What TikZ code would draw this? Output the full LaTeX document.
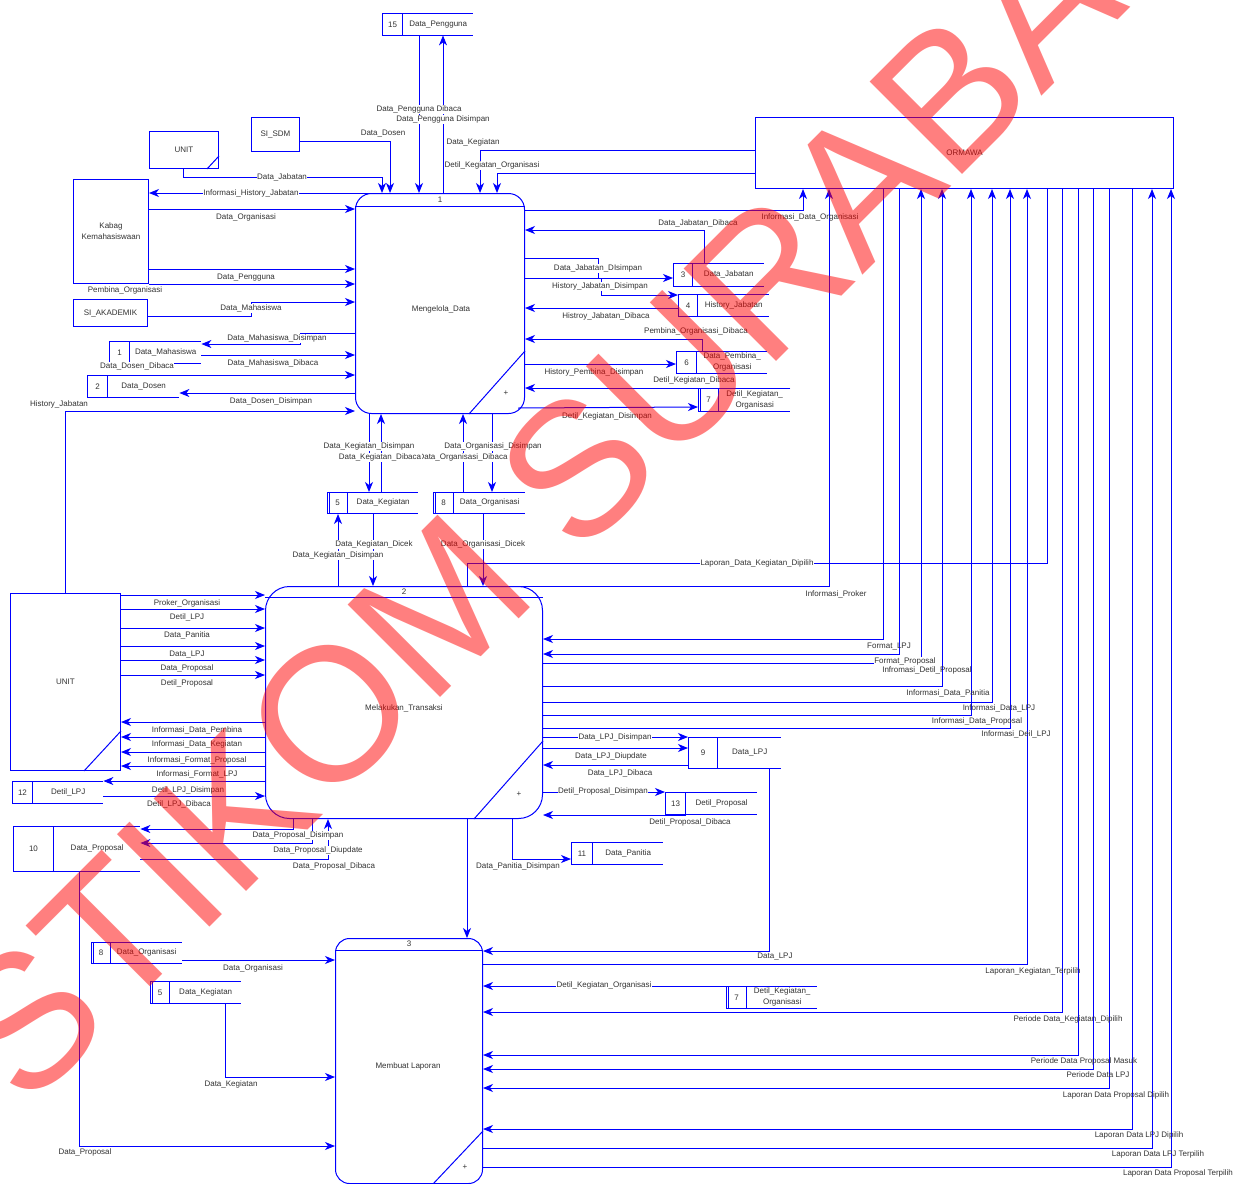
\documentclass[tikz,border=0pt]{standalone}
\usepackage{fontspec}
\setmainfont{Liberation Sans}
\usetikzlibrary{arrows.meta}
\definecolor{flowblue}{RGB}{0,0,255}
\begin{document}
\begin{tikzpicture}[x=1pt, y=-1pt, every node/.style={font=\fontsize{8}{11}\selectfont, text=black!80},
    wire/.style={draw=flowblue, line width=1pt},
    flow/.style={wire, -{Stealth[length=10pt, width=8pt, inset=3pt]}},
    lbl/.style={fill=white, inner sep=0.5pt, text height=6pt, text depth=2pt},
    tag/.style={inner sep=0.5pt, text height=6pt, text depth=2pt},
    ent/.style={wire, anchor=north west, inner sep=0, align=center},
    proc/.style={wire, anchor=north west, inner sep=0, rounded corners=16pt},
    sid/.style={wire, anchor=north west, inner sep=0, minimum width=20pt, minimum height=22pt},
    sname/.style={anchor=north west, inner sep=0, minimum height=22pt, align=center,
        append after command={(\tikzlastnode.north west) edge[wire] (\tikzlastnode.north east)
            (\tikzlastnode.south west) edge[wire] (\tikzlastnode.south east)}},
    dup/.style={append after command={([xshift=2.5pt]\tikzlastnode.north west) edge[wire] ([xshift=2.5pt]\tikzlastnode.south west)}}]
\path[use as bounding box, fill=white] (0,0) rectangle (1243,1184);

% entities
\node[ent, minimum width=418pt, minimum height=71pt] (ormawa) at (755,117) {ORMAWA};
\node[ent, minimum width=75pt, minimum height=104pt] (kabag) at (73,179) {Kabag\\Kemahasiswaan};
\node[ent, minimum width=48pt, minimum height=34pt] (sisdm) at (251,117) {SI\_SDM};
\node[ent, minimum width=69pt, minimum height=37pt] (unitA) at (149,131) {UNIT};
\draw[wire] ([xshift=-12pt]unitA.south east) -- ([yshift=13pt]unitA.south east);
\node[ent, minimum width=74pt, minimum height=27pt] (siak) at (73,299) {SI\_AKADEMIK};
\node[ent, minimum width=110pt, minimum height=177pt] (unitB) at (10,593) {UNIT};
\draw[wire] ([xshift=-37pt]unitB.south east) -- ([yshift=40pt]unitB.south east);

% processes
\node[proc, minimum width=169pt, minimum height=220pt] (p1) at (355,193) {};
\draw[wire] ([yshift=-13pt]p1.north west) -- ([yshift=-13pt]p1.north east);
\draw[wire] ([yshift=63pt]p1.south east) -- ([xshift=-56pt]p1.south east);
\node (p1num) at ([yshift=-6.5pt]p1.north) {1};
\node (p1txt) at (441,309) {Mengelola\_Data};
\node (p1plus) at ([shift={(-19pt,21pt)}]p1.south east) {+};

\node[proc, minimum width=277pt, minimum height=232pt, rounded corners=24pt] (p2) at (265,586) {};
\draw[wire] ([yshift=-11pt]p2.north west) -- ([yshift=-11pt]p2.north east);
\draw[wire] ([yshift=78pt]p2.south east) -- ([xshift=-69pt]p2.south east);
\node (p2num) at ([yshift=-5.5pt]p2.north) {2};
\node (p2txt) at (404,708) {Melakukan\_Transaksi};
\node (p2plus) at ([shift={(-24pt,25pt)}]p2.south east) {+};

\node[proc, minimum width=147pt, minimum height=245pt, rounded corners=14pt] (p3) at (335,938) {};
\draw[wire] ([yshift=-12pt]p3.north west) -- ([yshift=-12pt]p3.north east);
\draw[wire] ([yshift=53pt]p3.south east) -- ([xshift=-50pt]p3.south east);
\node (p3num) at ([yshift=-6pt]p3.north) {3};
\node (p3txt) at (408,1066) {Membuat Laporan};
\node (p3plus) at ([shift={(-18pt,17pt)}]p3.south east) {+};

% data stores
\node[sid] (s15) at (382,13) {15};
\node[sname, minimum width=70pt] (s15n) at (s15.north east) {Data\_Pengguna};
\node[sid] (s1) at (109,341) {1};
\node[sname, minimum width=71pt] (s1n) at (s1.north east) {Data\_Mahasiswa};
\node[sid] (s2) at (87,375) {2};
\node[sname, minimum width=71pt] (s2n) at (s2.north east) {Data\_Dosen};
\node[sid, minimum width=19pt, minimum height=23pt] (s3) at (673,263) {3};
\node[sname, minimum width=71pt, minimum height=23pt] (s3n) at (s3.north east) {Data\_Jabatan};
\node[sid, minimum width=19pt] (s4) at (678,294) {4};
\node[sname, minimum width=71pt] (s4n) at (s4.north east) {History\_Jabatan};
\node[sid] (s6) at (676,351) {6};
\node[sname, minimum width=70pt] (s6n) at (s6.north east) {Data\_Pembina\_\\Organisasi};
\node[sid, dup, minimum height=23pt] (s7a) at (698,388) {7};
\node[sname, minimum width=71pt, minimum height=23pt] (s7an) at (s7a.north east) {Detil\_Kegiatan\_\\Organisasi};
\node[sid, dup, minimum height=21pt] (s5a) at (327,492) {5};
\node[sname, minimum width=70pt, minimum height=21pt] (s5an) at (s5a.north east) {Data\_Kegiatan};
\node[sid, dup, minimum height=21pt] (s8a) at (433,492) {8};
\node[sname, minimum width=71pt, minimum height=21pt] (s8an) at (s8a.north east) {Data\_Organisasi};
\node[sid, minimum width=29pt, minimum height=31pt] (s9) at (688,737) {9};
\node[sname, minimum width=63pt, minimum height=31pt] (s9n) at (s9.north east) {Data\_LPJ};
\node[sid] (s12) at (12,781) {12};
\node[sname, minimum width=70pt] (s12n) at (s12.north east) {Detil\_LPJ};
\node[sid, minimum width=40pt, minimum height=45pt] (s10) at (13,826) {10};
\node[sname, minimum width=86pt, minimum height=45pt] (s10n) at (s10.north east) {Data\_Proposal};
\node[sid] (s13) at (665,792) {13};
\node[sname, minimum width=71pt] (s13n) at (s13.north east) {Detil\_Proposal};
\node[sid, minimum width=21pt] (s11) at (571,842) {11};
\node[sname, minimum width=70pt] (s11n) at (s11.north east) {Data\_Panitia};
\node[sid, dup, minimum width=19pt, minimum height=21pt] (s8b) at (91,942) {8};
\node[sname, minimum width=71pt, minimum height=21pt] (s8bn) at (s8b.north east) {Data\_Organisasi};
\node[sid, dup, minimum width=19pt] (s5b) at (150,981) {5};
\node[sname, minimum width=71pt] (s5bn) at (s5b.north east) {Data\_Kegiatan};
\node[sid, dup] (s7b) at (726,986) {7};
\node[sname, minimum width=70pt] (s7bn) at (s7b.north east) {Detil\_Kegiatan\_\\Organisasi};

% flows around process 1
\draw[flow] (s15n.south -| 419,0) -- (p1.north -| 419,0);
\draw[flow] (p1.north -| 443,0) -- (s15n.south -| 443,0);
\draw[flow] (sisdm.east |- 0,141) -| (p1.north -| 390,0);
\draw[flow] (unitA.south -| 183,0) |- (382,177) -- (p1.north -| 382,0);
\draw[flow] (ormawa.west |- 0,150) -| (p1.north -| 480,0);
\draw[flow] (ormawa.west |- 0,173) -| (p1.north -| 497,0);
\draw[flow] (p1.north -| 373,0) -- (kabag.east |- p1.north);
\draw[flow] (kabag.east |- 0,209) -- (p1.west |- 0,209);
\draw[flow] (kabag.east |- 0,269) -- (p1.west |- 0,269);
\draw[flow] (kabag.south east) -- (p1.west |- kabag.south east);
\draw[flow] (siak.east |- 0,316) -| (251,302) -- (p1.west |- 0,302);
\draw[flow] (p1.west |- 0,333) -- (300,333) |- (s1n.east |- 0,344);
\draw[flow] (s1n.east |- 0,355) -- (p1.west |- 0,355);
\draw[flow] (s2n.north -| 143,0) -- (p1.west |- s2n.north);
\draw[flow] (p1.west |- 0,393) -- (s2n.east |- 0,393);
\draw[flow] (unitB.north) |- (p1.west |- 0,411);
\draw[flow] (p1.east |- 0,210) -| (ormawa.south -| 803,0);
\draw[flow] (s3n.north -| 704,0) |- (p1.east |- 0,230);
\draw[flow] (p1.east |- 0,258) -| (598,278) -- (s3.west |- 0,278);
\draw[flow] (p1.east |- 0,278) -| (601,295) -- (s4.west |- 0,295);
\draw[flow] (s4.west |- 0,308) -- (p1.east |- 0,308);
\draw[flow] (s6n.north -| 702,0) |- (p1.east |- 0,339);
\draw[flow] (p1.east |- 0,364) -- (s6.west |- 0,364);
\draw[flow] (s7an.north east) -- (p1.east |- s7an.north east);
\draw[flow] (p1.south east) ++(-7,-6) -- (s7a.west |- 0,407);
\draw[flow] (p1.south -| 369,0) -- (s5an.north -| 369,0);
\draw[flow] (s5an.north -| 381,0) -- (p1.south -| 381,0);
\draw[flow] (s8an.north -| 463,0) -- (p1.south -| 463,0);
\draw[flow] (p1.south -| 492,0) -- (s8an.north -| 492,0);

% flows around process 2
\draw[flow] (p2.north -| 338,0) -- (s5a.south -| 338,0);
\draw[flow] (s5an.south -| 373,0) -- (p2.north -| 373,0);
\draw[flow] (s8an.south -| 483,0) -- (p2.north -| 483,0);
\draw[wire] (p2.north -| 467,0) |- (1047,563) -- (ormawa.south -| 1047,0);
\draw[flow] (p2.north -| 515,0) -| (ormawa.south -| 829,0);
\draw[flow] (ormawa.south -| 883,0) |- (p2.east |- 0,639);
\draw[flow] (ormawa.south -| 899,0) |- (p2.east |- 0,654);
\draw[flow] (p2.east |- 0,663) -| (ormawa.south -| 921,0);
\draw[flow] (p2.east |- 0,686) -| (ormawa.south -| 942,0);
\draw[flow] (p2.east |- 0,702) -| (ormawa.south -| 992,0);
\draw[flow] (p2.east |- 0,715) -| (ormawa.south -| 971,0);
\draw[flow] (p2.east |- 0,728) -| (ormawa.south -| 1010,0);
\draw[flow] (p2.east |- 0,737) -- (s9.west |- 0,737);
\draw[flow] (p2.east |- 0,748) -- (s9.west |- 0,748);
\draw[flow] (s9.west |- 0,765) -- (p2.east |- 0,765);
\draw[flow] (p2.east |- s13.north west) -- (s13.north west);
\draw[flow] (s13.south east) -- (p2.east |- s13.south east);
\draw[flow] (p2.south -| 512,0) |- (s11.west |- 0,859);
\draw[flow] (p2.south -| 467,0) -- (p3.north -| 467,0);
\draw[flow] (p2.south -| 293,0) |- (s10n.east |- 0,829);
\draw[flow] (p2.south -| 312,0) |- (s10n.east |- 0,843);
\draw[flow] (s10n.east |- 0,859) -| (p2.south -| 328,0);
\draw[flow] (unitB.east |- 0,595) -- (p2.west |- 0,595);
\draw[flow] (unitB.east |- 0,609) -- (p2.west |- 0,609);
\draw[flow] (unitB.east |- 0,628) -- (p2.west |- 0,628);
\draw[flow] (unitB.east |- 0,646) -- (p2.west |- 0,646);
\draw[flow] (unitB.east |- 0,660) -- (p2.west |- 0,660);
\draw[flow] (unitB.east |- 0,675) -- (p2.west |- 0,675);
\draw[flow] (p2.west |- 0,722) -- (unitB.east |- 0,722);
\draw[flow] (p2.west |- 0,737) -- (unitB.east |- 0,737);
\draw[flow] (p2.west |- 0,752) -- (unitB.east |- 0,752);
\draw[flow] (p2.west |- 0,766) -- (unitB.east |- 0,766);
\draw[flow] (p2.west |- s12n.north east) -- (s12n.north east);
\draw[flow] (s12n.east |- 0,796) -- (p2.west |- 0,796);

% flows around process 3
\draw[flow] (s10n.south -| 79,0) |- (p3.west |- 0,1146);
\draw[flow] (s8bn.east |- 0,960) -- (p3.west |- 0,960);
\draw[flow] (s5bn.south -| 225,0) |- (p3.west |- 0,1077);
\draw[flow] (s9n.south -| 769,0) |- (p3.east |- 0,951);
\draw[flow] (p3.east |- 0,964) -| (ormawa.south -| 1027,0);
\draw[flow] (s7b.north west) -- (p3.east |- s7b.north west);
\draw[flow] (ormawa.south -| 1062,0) |- (p3.east |- 0,1012);
\draw[flow] (ormawa.south -| 1078,0) |- (p3.east |- 0,1055);
\draw[flow] (ormawa.south -| 1093,0) |- (p3.east |- 0,1069);
\draw[flow] (ormawa.south -| 1109,0) |- (p3.east |- 0,1088);
\draw[flow] (ormawa.south -| 1132,0) |- (p3.east |- 0,1129);
\draw[flow] (p3.east |- 0,1148) -| (ormawa.south -| 1152,0);
\draw[flow] (p3.east |- 0,1167) -| (ormawa.south -| 1171,0);

% flow labels
\node[lbl] (tPengDibaca) at (419,109) {Data\_Pengguna Dibaca};
\node[lbl] (tPengDisimpan) at (443,119) {Data\_Pengguna Disimpan};
\node[lbl] (tDosen) at (383,133) {Data\_Dosen};
\node[lbl] (tKegiatan) at (473,142) {Data\_Kegiatan};
\node[lbl] (tDetilKeg) at (492,165) {Detil\_Kegiatan\_Organisasi};
\node[lbl] (tJabatan) at (282,177) {Data\_Jabatan};
\node[lbl] (tInfoHist) at (251,193) {Informasi\_History\_Jabatan};
\node[lbl] (tOrg) at (246,217) {Data\_Organisasi};
\node[lbl] (tPengguna) at (246,277) {Data\_Pengguna};
\node[lbl] (tPembina) at (125,290) {Pembina\_Organisasi};
\node[lbl] (tMhs) at (251,308) {Data\_Mahasiswa};
\node[lbl] (tMhsSimpan) at (277,338) {Data\_Mahasiswa\_Disimpan};
\node[lbl] (tMhsBaca) at (273,363) {Data\_Mahasiswa\_Dibaca};
\node[lbl] (tDosenBaca) at (137,366) {Data\_Dosen\_Dibaca};
\node[lbl] (tDosenSimpan) at (271,401) {Data\_Dosen\_Disimpan};
\node[lbl] (tHistJab) at (59,404) {History\_Jabatan};
\node[tag] (tInfoOrg) at (810,217) {Informasi\_Data\_Organisasi};
\node[lbl] (tJabBaca) at (698,223) {Data\_Jabatan\_Dibaca};
\node[lbl] (tJabSimpan) at (598,268) {Data\_Jabatan\_DIsimpan};
\node[lbl] (tHistSimpan) at (600,286) {History\_Jabatan\_Disimpan};
\node[lbl] (tHistBaca) at (606,316) {Histroy\_Jabatan\_Dibaca};
\node[lbl] (tPembBaca) at (696,331) {Pembina\_Organisasi\_Dibaca};
\node[lbl] (tPembSimpan) at (594,372) {History\_Pembina\_Disimpan};
\node[lbl] (tDetilBaca) at (694,380) {Detil\_Kegiatan\_Dibaca};
\node[lbl] (tDetilSimpan) at (607,416) {Detil\_Kegiatan\_Disimpan};
\node[lbl] (tKegSimpanA) at (369,446) {Data\_Kegiatan\_Disimpan};
\node[lbl] (tOrgSimpan) at (493,446) {Data\_Organisasi\_Disimpan};
\node[lbl] (tOrgBaca) at (463,457) {Data\_Organisasi\_Dibaca};
\node[lbl] (tKegBaca) at (380,457) {Data\_Kegiatan\_Dibaca};
\node[lbl] (tKegCek) at (374,544) {Data\_Kegiatan\_Dicek};
\node[lbl] (tKegSimpanB) at (338,555) {Data\_Kegiatan\_Disimpan};
\node[lbl] (tOrgCek) at (483,544) {Data\_Organisasi\_Dicek};
\node[lbl] (tLapKeg) at (757,563) {Laporan\_Data\_Kegiatan\_Dipilih};
\node[tag] (tProker) at (836,594) {Informasi\_Proker};
\node[lbl] (tProkerOrg) at (187,603) {Proker\_Organisasi};
\node[lbl] (tDetilLPJ) at (187,617) {Detil\_LPJ};
\node[lbl] (tPanitia) at (187,635) {Data\_Panitia};
\node[lbl] (tLPJ) at (187,654) {Data\_LPJ};
\node[lbl] (tProposal) at (187,668) {Data\_Proposal};
\node[lbl] (tDetilProp) at (187,683) {Detil\_Proposal};
\node[lbl] (tInfoPemb) at (197,730) {Informasi\_Data\_Pembina};
\node[lbl] (tInfoKeg) at (197,744) {Informasi\_Data\_Kegiatan};
\node[lbl] (tInfoFProp) at (197,760) {Informasi\_Format\_Proposal};
\node[lbl] (tInfoFLPJ) at (197,774) {Informasi\_Format\_LPJ};
\node[lbl] (tDLPJSimpan) at (188,790) {Detil\_LPJ\_Disimpan};
\node[lbl] (tDLPJBaca) at (179,804) {Detil\_LPJ\_Dibaca};
\node[tag] (tFLPJ) at (889,646) {Format\_LPJ};
\node[lbl] (tFProp) at (905,661) {Format\_Proposal};
\node[tag] (tInfoDProp) at (927,670) {Infromasi\_Detil\_Proposal};
\node[tag] (tInfoPan) at (948,693) {Informasi\_Data\_Panitia};
\node[tag] (tInfoLPJ) at (999,708) {Informasi\_Data\_LPJ};
\node[tag] (tInfoProp) at (977,721) {Informasi\_Data\_Proposal};
\node[tag] (tInfoDLPJ) at (1016,734) {Informasi\_Deil\_LPJ};
\node[lbl] (tLPJSimpan) at (615,737) {Data\_LPJ\_Disimpan};
\node[lbl] (tLPJUpdate) at (611,756) {Data\_LPJ\_Diupdate};
\node[lbl] (tLPJBaca) at (620,773) {Data\_LPJ\_Dibaca};
\node[lbl] (tDPropSimpan) at (603,791) {Detil\_Proposal\_Disimpan};
\node[lbl] (tDPropBaca) at (690,822) {Detil\_Proposal\_Dibaca};
\node[lbl] (tPropSimpan) at (298,835) {Data\_Proposal\_Disimpan};
\node[lbl] (tPropUpdate) at (318,850) {Data\_Proposal\_Diupdate};
\node[lbl] (tPropBaca) at (334,866) {Data\_Proposal\_Dibaca};
\node[lbl] (tPanSimpan) at (518,866) {Data\_Panitia\_Disimpan};
\node[lbl] (tLPJ3) at (775,956) {Data\_LPJ};
\node[tag] (tLapKegT) at (1033,971) {Laporan\_Kegiatan\_Terpilih};
\node[lbl] (tDetilKeg3) at (604,985) {Detil\_Kegiatan\_Organisasi};
\node[lbl] (tOrg3) at (253,968) {Data\_Organisasi};
\node[lbl] (tKeg3) at (231,1084) {Data\_Kegiatan};
\node[lbl] (tProp3) at (85,1152) {Data\_Proposal};
\node[tag] (tPerKeg) at (1068,1019) {Periode Data\_Kegiatan\_Dipilih};
\node[tag] (tPerProp) at (1084,1061) {Periode Data Proposal Masuk};
\node[tag] (tPerLPJ) at (1098,1075) {Periode Data LPJ};
\node[tag] (tLapPropD) at (1116,1095) {Laporan Data Proposal Dipilih};
\node[tag] (tLapLPJD) at (1139,1135) {Laporan Data LPJ Dipilih};
\node[tag] (tLapLPJT) at (1158,1154) {Laporan Data LPJ Terpilih};
\node[tag] (tLapPropT) at (1178,1173) {Laporan Data Proposal Terpilih};

% watermark
\node[rotate=45, text=red, opacity=0.5, inner sep=0, font=\fontsize{190}{190}\selectfont] (wmark) at (612,433) {STIKOM SURABAYA};
\end{tikzpicture}
\end{document}
